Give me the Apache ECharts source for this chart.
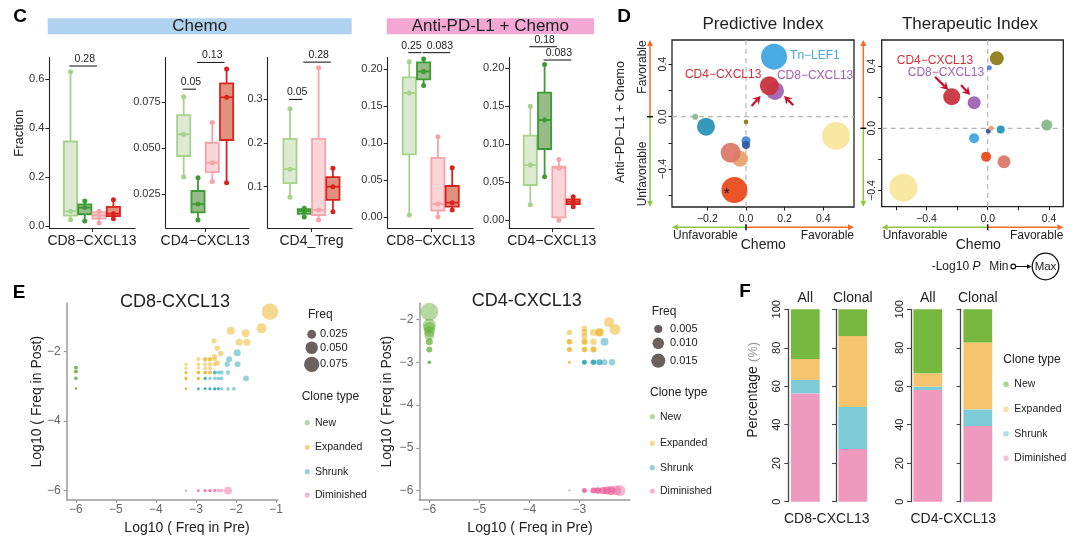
<!DOCTYPE html>
<html>
<head>
<meta charset="utf-8">
<title>Figure</title>
<script src="https://cdn.jsdelivr.net/npm/echarts@6.0.0/dist/echarts.min.js"></script>
<style>
html,body{margin:0;padding:0;background:#fff;}
#chart{width:1080px;height:545px;}
</style>
</head>
<body>
<div id="chart"></div>
<script>
// ======================= DATA =======================
// ---- Panel C : box plots, each group = [min, Q1, median, Q3, max] ----
const cPanelNames = ['CD8−CXCL13', 'CD4−CXCL13', 'CD4_Treg', 'CD8−CXCL13', 'CD4−CXCL13'];
const cGroupNames = ['Group 1', 'Group 2', 'Group 3', 'Group 4'];
const cChemoCD8  = [[0.025,0.042,0.060,0.345,0.630],[0.020,0.048,0.075,0.088,0.102],[0.012,0.030,0.044,0.057,0.060],[0.030,0.040,0.050,0.078,0.107]];
const cChemoCD4  = [[0.0346,0.0458,0.0576,0.068,0.078],[0.011,0.0152,0.0197,0.0268,0.034],[0.032,0.037,0.0422,0.053,0.064],[0.0313,0.0545,0.0777,0.0853,0.093]];
const cChemoTreg = [[0.0757,0.108,0.140,0.209,0.278],[0.031,0.038,0.0445,0.049,0.051],[0.024,0.035,0.047,0.209,0.371],[0.043,0.070,0.100,0.122,0.142]];
const cComboCD8  = [[0.0027,0.0849,0.168,0.189,0.2104],[0.178,0.1865,0.197,0.2095,0.214],[0.0,0.0086,0.0176,0.080,0.1088],[0.0095,0.014,0.0194,0.042,0.0668]];
const cComboCD4  = [[0.0206,0.0465,0.0728,0.1114,0.150],[0.0575,0.0939,0.132,0.168,0.205],[0.0,0.004,0.069,0.0706,0.080],[0.018,0.0215,0.0246,0.0276,0.031]];
const cYTicks = [[0,0.2,0.4,0.6],[0.025,0.05,0.075],[0.1,0.2,0.3],[0,0.05,0.1,0.15,0.2],[0,0.05,0.1,0.15,0.2]];
// significance: [groupA, groupB, y, p-label]
const cSigChemoCD8  = [[0,2,0.653,'0.28']];
const cSigChemoCD4  = [[0,1,0.0821,'0.05'],[1,3,0.0966,'0.13']];
const cSigChemoTreg = [[0,1,0.299,'0.05'],[1,3,0.384,'0.28']];
const cSigComboCD8  = [[0,1,0.2226,'0.25'],[1,3,0.2226,'0.083']];
const cSigComboCD4  = [[0,2,0.2285,'0.18'],[1,3,0.211,'0.083']];

// ---- Panel D : bubbles [chemo index, anti-PD-L1+chemo index, -log10 P] ----
const dCellNames = ['Tn−LEF1','CD8−CXCL13','CD4−CXCL13','cell4','cell5','cell6','cell7','cell8','cell9','cell10','cell11','cell12'];
const dPredictive  = [[0.145,0.457,2.75],[0.150,0.196,1.75],[0.121,0.236,1.88],[-0.263,0.0,0.25],[-0.207,-0.076,1.75],[0.0,-0.04,0.08],[0.0,-0.183,0.63],[0.0,-0.216,0.5],[-0.031,-0.32,1.5],[-0.079,-0.274,2.0],[-0.06,-0.559,2.75],[0.466,-0.147,3.0]];
const dTherapeutic = [[-0.089,-0.064,0.75],[-0.089,0.165,1.13],[-0.235,0.203,1.63],[0.385,0.021,0.88],[0.085,-0.007,0.5],[0.059,0.45,1.25],[0.01,0.39,0.13],[0.004,-0.017,0.13],[0.022,0.0,0.13],[0.106,-0.215,1.13],[-0.011,-0.182,0.75],[-0.551,-0.382,3.0]];
const dPredXTicks = [-0.2,0,0.2,0.4];
const dPredYTicks = [-0.6,-0.4,-0.2,0,0.2,0.4];
const dTherXTicks = [-0.6,-0.4,-0.2,0,0.2,0.4];
const dTherYTicks = [-0.4,-0.2,0,0.2,0.4];
const dAxisLabels = [-0.4,0,0.4];

// ---- Panel E : clones [log10 freq pre, log10 freq post, freq, overlapping clones] ----
const eCD8New = [[-6,-2.46,0.005,3],[-6,-2.575,0.005,3],[-6,-2.765,0.004,3],[-6,-3.06,0.002,3]];
const eCD8Expanded = [[-1.15,-0.85,0.088,1],[-1.36,-1.33,0.032,1],[-2.13,-1.40,0.020,1],[-1.76,-1.47,0.020,1],[-1.92,-1.73,0.016,1],[-1.73,-1.73,0.016,1],[-2.55,-1.69,0.009,1],[-2.47,-1.90,0.009,1],[-2.38,-2.05,0.009,1],[-2.54,-2.14,0.008,1],[-2.46,-2.33,0.008,1],
  [-2.94,-2.22,0.005,1],[-2.77,-2.22,0.006,2],[-2.65,-2.22,0.006,2],[-2.53,-2.22,0.006,1],
  [-3.25,-2.36,0.004,1],[-2.94,-2.36,0.005,1],[-2.77,-2.36,0.005,1],[-2.65,-2.36,0.006,1],[-2.53,-2.36,0.006,1],
  [-3.25,-2.48,0.004,1],[-2.94,-2.48,0.004,1],[-2.77,-2.48,0.005,1],[-2.65,-2.48,0.005,1],
  [-3.25,-2.60,0.003,3],[-2.94,-2.60,0.004,3],[-2.77,-2.60,0.004,3],[-2.65,-2.60,0.005,2],
  [-3.25,-2.77,0.003,3],[-2.94,-2.77,0.003,3],[-3.25,-3.07,0.002,3]];
const eCD8Shrunk = [[-1.97,-2.03,0.016,1],[-2.17,-2.22,0.011,1],[-1.96,-2.36,0.011,1],[-2.22,-2.36,0.009,1],[-1.75,-2.77,0.011,1],
  [-2.53,-2.60,0.005,2],[-2.44,-2.60,0.005,1],[-2.36,-2.60,0.006,1],[-2.20,-2.60,0.006,1],
  [-2.77,-2.77,0.003,3],[-2.65,-2.77,0.004,1],[-2.53,-2.77,0.004,1],[-2.44,-2.77,0.005,1],[-2.36,-2.77,0.005,1],
  [-2.94,-3.07,0.0025,3],[-2.77,-3.07,0.0028,3],[-2.65,-3.07,0.003,3],[-2.53,-3.07,0.0035,3],[-2.44,-3.07,0.0038,2],[-2.36,-3.07,0.004,1],[-2.20,-3.07,0.0045,1],[-2.05,-3.07,0.005,1]];
const eCD8Diminished = [[-3.25,-6,0.0015,2],[-2.94,-6,0.0025,3],[-2.77,-6,0.003,3],[-2.65,-6,0.0035,3],[-2.53,-6,0.004,2],[-2.44,-6,0.0045,1],[-2.36,-6,0.005,1],[-2.20,-6,0.020,1]];
const eCD4New = [[-6,-1.82,0.024,1],[-6,-2.13,0.0126,1],[-6,-2.20,0.0107,1],[-6,-2.28,0.009,1],[-6,-2.36,0.0074,1],[-6,-2.52,0.0036,2],[-6,-2.70,0.0027,2],[-6,-3.0,0.0009,3]];
const eCD4Expanded = [[-2.41,-2.06,0.0074,1],[-2.29,-2.23,0.009,1],[-2.60,-2.30,0.0048,2],[-2.72,-2.30,0.0036,1],[-2.90,-2.21,0.0027,1],[-2.90,-2.30,0.0027,1],[-2.90,-2.39,0.0027,1],[-3.20,-2.30,0.0022,1],[-3.20,-2.52,0.0022,2],[-2.90,-2.52,0.0027,2],[-2.72,-2.52,0.003,1],[-3.20,-2.70,0.0019,2],[-2.90,-2.70,0.0023,2],[-2.72,-2.70,0.0027,2],[-3.20,-3.0,0.0007,2]];
const eCD4Shrunk = [[-2.50,-2.52,0.0048,1],[-2.90,-3.0,0.0019,3],[-2.72,-3.0,0.0023,3],[-2.60,-3.0,0.0027,2],[-2.50,-3.0,0.0027,1],[-2.35,-3.0,0.0032,1]];
const eCD4Diminished = [[-3.20,-6,0.0003,2],[-2.90,-6,0.0019,3],[-2.72,-6,0.0027,3],[-2.63,-6,0.0032,3],[-2.53,-6,0.0039,2],[-2.45,-6,0.0048,2],[-2.37,-6,0.006,2],[-2.27,-6,0.0074,1],[-2.19,-6,0.009,1]];
const eCD8XTicks = [-6,-5,-4,-3,-2,-1];
const eCD8YTicks = [-6,-4,-2];
const eCD4XTicks = [-6,-5,-4,-3];
const eCD4YTicks = [-6,-5,-4,-3,-2];
const eCD8FreqLegend = [0.025,0.050,0.075];
const eCD4FreqLegend = [0.005,0.010,0.015];
const cloneTypes = ['New','Expanded','Shrunk','Diminished'];

// ---- Panel F : percentage of clone types ----
const fColumns = ['All','Clonal','All','Clonal'];
const fCells = ['CD8-CXCL13','CD4-CXCL13'];
const fDiminished = [56.3,27.4,58.1,39.3];
const fShrunk     = [7.0,21.8,1.7,8.7];
const fExpanded   = [10.9,36.9,6.9,34.7];
const fNew        = [25.8,13.9,33.3,17.3];
const fYTicks = [0,20,40,60,80,100];

// ======================= STYLE / LAYOUT =======================
const FONT = '"Liberation Sans", Arial, Helvetica, sans-serif';
const cStroke = ['#a6d28c','#3d9b35','#f5a3a9','#d9231f'];
const cFill   = ['#dbead0','#97bc87','#f9d5d7','#e3917f'];
const cLayout = [
  {left:49.3, right:135, c0:70.5, yMin:-0.0082, yMax:0.6878, dec:1},
  {left:165.7, right:249, c0:183.7, yMin:0.0067, yMax:0.0993, dec:3},
  {left:267.7, right:352, c0:290, yMin:0.0058, yMax:0.3946, dec:1},
  {left:387.7, right:473, c0:409.3, yMin:-0.0149, yMax:0.216, dec:2},
  {left:509.3, right:594, c0:530.3, yMin:-0.0101, yMax:0.2143, dec:2}
];
// horizontal nudges of p-value labels (px), per subplot / comparison
const cSigLabelDx = [[0],[0,0],[0,0],[-5,2],[0,0]];
const cTop = 57.5, cBottom = 228, cStep = 14.3;
const dColors = ['#3fa7e1','#a062b4','#c9343f','#86b98a','#2a93b8','#8f7d1f','#4b86d6','#2f57a8','#eba06e','#dc7a6c','#ea4b1c','#f8e79c'];
const eColors = {New:'#5aaa2a', Expanded:'#e6a800', Shrunk:'#1a9caa', Diminished:'#ec5a9a'};
const fColors = {New:'#76b83f', Expanded:'#f6c46e', Shrunk:'#7ccbd5', Diminished:'#ef99bf'};
const E_ALPHA = 0.45;
const ARROW_RED = '#c8102e', ORANGE = '#f26c2b', LGREEN = '#8dc63f';

const cStats = [cChemoCD8, cChemoCD4, cChemoTreg, cComboCD8, cComboCD4];
const cSig = [cSigChemoCD8, cSigChemoCD4, cSigChemoTreg, cSigComboCD8, cSigComboCD4];

const grids = [], xAxes = [], yAxes = [], series = [], graphics = [];
const minus = v => (v < 0 ? '−' : '') ;
function addGrid(g){ grids.push(Object.assign({containLabel:false, outerBoundsMode:'none'}, g)); return grids.length - 1; }

function T(text, x, y, o){
  o = o || {};
  return {type:'text', x:x, y:y, rotation:o.rot || 0, silent:true, z:20,
    style:{text:text, x:0, y:0, textAlign:o.align || 'center', textVerticalAlign:o.va || 'middle',
      fontSize:o.size || 12, fontFamily:FONT, fontWeight:o.weight || 'normal', fontStyle:o.style || 'normal',
      fill:o.color || '#222'}};
}
function arrowEls(x1, y1, x2, y2, color, lw, hl, hw, notch){
  const a = Math.atan2(y2 - y1, x2 - x1), c = Math.cos(a), s = Math.sin(a);
  const bx = x2 - hl * c, by = y2 - hl * s;
  const nx = x2 - hl * (1 - (notch || 0)) * c, ny = y2 - hl * (1 - (notch || 0)) * s;
  return [
    {type:'line', shape:{x1:x1, y1:y1, x2:nx, y2:ny}, style:{stroke:color, lineWidth:lw}},
    {type:'polygon', shape:{points:[[x2,y2],[bx - s*hw, by + c*hw],[nx, ny],[bx + s*hw, by - c*hw]]}, style:{fill:color}}
  ];
}

// ======================= PANEL C =======================
cLayout.forEach((L, s) => {
  const gi = addGrid({left:L.left, top:cTop, width:L.right - L.left, height:cBottom - cTop});
  xAxes.push({gridIndex:gi, type:'value', min:(L.left - L.c0)/cStep, max:(L.right - L.c0)/cStep,
    axisLine:{show:true, onZero:false, lineStyle:{color:'#222', width:1.1}},
    axisTick:{show:true, length:4, customValues:[1.5], lineStyle:{color:'#222'}},
    axisLabel:{customValues:[1.5], formatter:() => cPanelNames[s], fontSize:14, color:'#222', margin:6},
    splitLine:{show:false}});
  yAxes.push({gridIndex:gi, type:'value', min:L.yMin, max:L.yMax,
    axisLine:{show:true, onZero:false, lineStyle:{color:'#222', width:1.1}},
    axisTick:{show:true, length:4, customValues:cYTicks[s], lineStyle:{color:'#222'}},
    axisLabel:{customValues:cYTicks[s], formatter:v => v.toFixed(L.dec), fontSize:11, color:'#333', margin:5},
    splitLine:{show:false}});
  series.push({type:'custom', xAxisIndex:gi, yAxisIndex:gi, silent:true, z:2,
    data:cStats[s].map((st, g) => [g].concat(st)), encode:{x:0, y:[1,2,3,4,5]},
    renderItem:(params, api) => {
      const g = api.value(0);
      const x = api.coord([g, 0])[0];
      const w = api.size([0.92, 0])[0];
      const ys = [1,2,3,4,5].map(k => api.coord([g, api.value(k)])[1]);
      const st = cStroke[g], fl = cFill[g], lw = 1.8;
      return {type:'group', children:[
        {type:'line', shape:{x1:x, y1:ys[4], x2:x, y2:ys[3]}, style:{stroke:st, lineWidth:lw}},
        {type:'line', shape:{x1:x, y1:ys[1], x2:x, y2:ys[0]}, style:{stroke:st, lineWidth:lw}},
        {type:'rect', shape:{x:x - w/2, y:ys[3], width:w, height:ys[1] - ys[3]}, style:{fill:fl, stroke:st, lineWidth:lw}},
        {type:'line', shape:{x1:x - w/2, y1:ys[2], x2:x + w/2, y2:ys[2]}, style:{stroke:st, lineWidth:lw}}
      ]};
    }});
  const dots = [];
  cStats[s].forEach((st, g) => { dots.push([g, st[0]], [g, st[2]], [g, st[4]]); });
  series.push({type:'scatter', xAxisIndex:gi, yAxisIndex:gi, silent:true, z:3, clip:false,
    data:dots, symbolSize:5, itemStyle:{color:p => cStroke[p.value[0]], opacity:1}});
  series.push({type:'custom', xAxisIndex:gi, yAxisIndex:gi, silent:true, z:3,
    data:cSig[s].map(r => [r[0], r[1], r[2]]), encode:{x:[0,1], y:2},
    renderItem:(params, api) => {
      const y = api.value(2);
      const p1 = api.coord([api.value(0), y]), p2 = api.coord([api.value(1), y]);
      const lab = cSig[s][params.dataIndex][3];
      const dx = cSigLabelDx[s][params.dataIndex] || 0;
      return {type:'group', children:[
        {type:'line', shape:{x1:p1[0] - 1, y1:p1[1], x2:p2[0] - 2, y2:p2[1]}, style:{stroke:'#222', lineWidth:1.1}},
        {type:'text', style:{text:lab, x:(p1[0] + p2[0])/2 + dx, y:p1[1] - 1.5, textAlign:'center', textVerticalAlign:'bottom', fontSize:10.5, fontFamily:FONT, fill:'#222'}}
      ]};
    }});
});
graphics.push(T('C', 20, 17, {size:19, weight:'bold', color:'#000'}));
graphics.push({type:'rect', shape:{x:47.7, y:18.3, width:304, height:16}, style:{fill:'#b0d2f1'}, silent:true});
graphics.push(T('Chemo', 199.7, 26.5, {size:17}));
graphics.push({type:'rect', shape:{x:386.7, y:18.3, width:207.3, height:16}, style:{fill:'#f3a8d3'}, silent:true});
graphics.push(T('Anti-PD-L1 + Chemo', 490.3, 26.5, {size:17}));
graphics.push(T('Fraction', 19.3, 133.3, {size:13, rot:Math.PI/2}));

// ======================= PANEL D =======================
const dFmt = v => minus(v) + Math.abs(v).toFixed(1);
const dPanels = [
  {data:dPredictive, left:672, top:40, width:182, height:167, xMin:-0.383, xMax:0.559, yMin:-0.688, yMax:0.584, xt:dPredXTicks, xl:dPredXTicks, yt:dPredYTicks, ylm:3.2},
  {data:dTherapeutic, left:881.7, top:40, width:181.6, height:166.7, xMin:-0.692, xMax:0.493, yMin:-0.504, yMax:0.568, xt:dTherXTicks, xl:dAxisLabels, yt:dTherYTicks, ylm:4.5}
];
const dNotes = [
  [{text:'Tn−LEF1', at:[0.228,0.462], color:'#45a8df'}, {text:'CD4−CXCL13', at:[-0.316,0.318], color:'#d0303c'}, {text:'CD8−CXCL13', at:[0.16,0.31], color:'#a15fb3'}],
  [{text:'CD4−CXCL13', at:[-0.594,0.433], color:'#d0303c'}, {text:'CD8−CXCL13', at:[-0.522,0.358], color:'#a15fb3'}]
];
const dArrows = [
  [[0.029,0.081,0.076,0.158],[0.245,0.087,0.197,0.158]],
  [[-0.344,0.332,-0.257,0.246],[-0.174,0.278,-0.115,0.214]]
];
dPanels.forEach((P, k) => {
  const gi = addGrid({left:P.left, top:P.top, width:P.width, height:P.height, show:true, borderColor:'#222', borderWidth:1.3, backgroundColor:'transparent'});
  xAxes.push({gridIndex:gi, type:'value', min:P.xMin, max:P.xMax,
    axisLine:{show:false, onZero:false}, splitLine:{show:false},
    axisTick:{show:true, length:3.5, customValues:P.xt, lineStyle:{color:'#222'}},
    axisLabel:{customValues:P.xl, formatter:dFmt, fontSize:10.5, color:'#222', margin:6.5}});
  yAxes.push({gridIndex:gi, type:'value', min:P.yMin, max:P.yMax,
    axisLine:{show:false, onZero:false}, splitLine:{show:false},
    axisTick:{show:true, length:3.5, customValues:P.yt, lineStyle:{color:'#222'}},
    axisLabel:{customValues:dAxisLabels, formatter:dFmt, fontSize:10.5, color:'#222', margin:P.ylm, rotate:90}});
  series.push({type:'custom', xAxisIndex:gi, yAxisIndex:gi, silent:true, z:1, data:[[0,0]],
    renderItem:(params, api) => {
      const cs = params.coordSys, p = api.coord([0, 0]);
      const st = {stroke:'#b5b5b5', lineWidth:1.2, lineDash:[5,4]};
      return {type:'group', children:[
        {type:'line', shape:{x1:cs.x, y1:p[1], x2:cs.x + cs.width, y2:p[1]}, style:st},
        {type:'line', shape:{x1:p[0], y1:cs.y, x2:p[0], y2:cs.y + cs.height}, style:st}
      ]};
    }});
  series.push({type:'scatter', xAxisIndex:gi, yAxisIndex:gi, silent:true, z:3,
    data:P.data, symbolSize:v => 2*(2 + 4*v[2]),
    itemStyle:{color:p => dColors[p.dataIndex], opacity:0.95}});
  series.push({type:'custom', xAxisIndex:gi, yAxisIndex:gi, silent:true, z:4, data:dArrows[k],
    renderItem:(params, api) => {
      const a = api.coord([api.value(0), api.value(1)]), b = api.coord([api.value(2), api.value(3)]);
      return {type:'group', children:arrowEls(a[0], a[1], b[0], b[1], ARROW_RED, 2.2, 8, 4.5, 0.35)};
    }});
  series.push({type:'custom', xAxisIndex:gi, yAxisIndex:gi, silent:true, z:4, data:dNotes[k].map(n => n.at),
    renderItem:(params, api) => {
      const p = api.coord([api.value(0), api.value(1)]), n = dNotes[k][params.dataIndex];
      return {type:'text', style:{text:n.text, x:p[0], y:p[1], textAlign:'left', textVerticalAlign:'middle', fontSize:12, fontFamily:FONT, fill:n.color}};
    }});
});
// star on significant bubble in predictive index
series.push({type:'custom', xAxisIndex:5, yAxisIndex:5, silent:true, z:5, data:[[-0.1,-0.585]],
  renderItem:(params, api) => {
    const p = api.coord([api.value(0), api.value(1)]);
    return {type:'text', style:{text:'*', x:p[0], y:p[1], textAlign:'center', textVerticalAlign:'middle', fontSize:15, fontFamily:FONT, fill:'#111'}};
  }});
graphics.push(T('D', 624, 17, {size:19, weight:'bold', color:'#000'}));
graphics.push(T('Predictive Index', 763, 24, {size:17}));
graphics.push(T('Therapeutic Index', 970, 24, {size:17}));
graphics.push(T('Anti−PD−L1 + Chemo', 621, 122, {size:12.5, rot:Math.PI/2}));
graphics.push(T('Favorable', 642.5, 67, {size:12, rot:Math.PI/2}));
graphics.push(T('Unfavorable', 642.5, 174, {size:12, rot:Math.PI/2}));
[[650,116.7,40,207],[863.3,128.3,40,206.7]].forEach(v => {
  arrowEls(v[0], v[1], v[0], v[2], ORANGE, 1.5, 6, 3).forEach(e => graphics.push(Object.assign(e, {silent:true})));
  arrowEls(v[0], v[1], v[0], v[3], LGREEN, 1.5, 6, 3).forEach(e => graphics.push(Object.assign(e, {silent:true})));
  graphics.push({type:'line', shape:{x1:v[0]-3, y1:v[1], x2:v[0]+3, y2:v[1]}, style:{stroke:'#111', lineWidth:1.5}, silent:true});
});
[[746,672,854,763.3],[987.7,881.7,1063.3,978.3]].forEach(h => {
  const y = 227.3;
  arrowEls(h[0], y, h[1], y, LGREEN, 1.5, 6, 3).forEach(e => graphics.push(Object.assign(e, {silent:true})));
  arrowEls(h[0], y, h[2], y, ORANGE, 1.5, 6, 3).forEach(e => graphics.push(Object.assign(e, {silent:true})));
  graphics.push({type:'line', shape:{x1:h[0], y1:y-3, x2:h[0], y2:y+3}, style:{stroke:'#111', lineWidth:1.5}, silent:true});
  graphics.push(T('Unfavorable', h[1] + 1, 235.5, {size:12, align:'left'}));
  graphics.push(T('Favorable', h[2], 235.5, {size:12, align:'right'}));
  graphics.push(T('Chemo', h[3], 245.5, {size:14}));
});
graphics.push(T('-Log10', 931.7, 266.3, {size:12, align:'left'}));
graphics.push(T('P', 972.5, 266.3, {size:12, align:'left', style:'italic'}));
graphics.push(T('Min', 1008.5, 266.3, {size:12, align:'right'}));
graphics.push({type:'circle', shape:{cx:1013.3, cy:266.5, r:2.4}, style:{fill:'#fff', stroke:'#111', lineWidth:1.2}, silent:true});
arrowEls(1016, 266.5, 1031.5, 266.5, '#111', 1, 4.5, 2.2).forEach(e => graphics.push(Object.assign(e, {silent:true})));
graphics.push({type:'circle', shape:{cx:1045.5, cy:266.5, r:13.3}, style:{fill:'#fff', stroke:'#111', lineWidth:1.3}, silent:true});
graphics.push(T('Max', 1045.5, 266.7, {size:11.5}));

// ======================= PANEL E =======================
const eFmt = v => minus(v) + Math.abs(v);
const ePanels = [
  {left:66.7, top:303, width:211.3, height:197, xMin:-6.23, xMax:-0.95, yMin:-6.27, yMax:-0.6, xt:eCD8XTicks, yt:eCD8YTicks, k:28,
   sets:[eCD8New, eCD8Expanded, eCD8Shrunk, eCD8Diminished], title:'CD8-CXCL13', tx:175, ty:301.7, ax:187, yx:36.7,
   freq:eCD8FreqLegend, fx:311.7, fy:[334.3,347.7,364.3], flx:320, fTitle:[308,315], ct:[301.7,396.7], cdx:307.3, clx:315, cy:[422.7,447.3,471.7,495]},
  {left:419.3, top:303.3, width:210.7, height:196.7, xMin:-6.2, xMax:-1.99, yMin:-6.22, yMax:-1.62, xt:eCD4XTicks, yt:eCD4YTicks, k:58,
   sets:[eCD4New, eCD4Expanded, eCD4Shrunk, eCD4Diminished], title:'CD4-CXCL13', tx:526.7, ty:300.7, ax:530, yx:386.7,
   freq:eCD4FreqLegend, fx:658.3, fy:[329,343.3,360.7], flx:670, fTitle:[651.7,311.7], ct:[650,392.3], cdx:652.3, clx:660, cy:[416.7,443.3,467.7,491]}
];
ePanels.forEach(P => {
  const gi = addGrid({left:P.left, top:P.top, width:P.width, height:P.height});
  const axl = {show:true, onZero:false, lineStyle:{color:'#9a9a9a', width:1.5}};
  xAxes.push({gridIndex:gi, type:'value', min:P.xMin, max:P.xMax, axisLine:axl, splitLine:{show:false},
    axisTick:{show:true, length:3, customValues:P.xt, lineStyle:{color:'#9a9a9a', width:1.2}},
    axisLabel:{customValues:P.xt, formatter:eFmt, fontSize:12, color:'#666', margin:4}});
  yAxes.push({gridIndex:gi, type:'value', min:P.yMin, max:P.yMax, axisLine:axl, splitLine:{show:false},
    axisTick:{show:true, length:3, customValues:P.yt, lineStyle:{color:'#9a9a9a', width:1.2}},
    axisLabel:{customValues:P.yt, formatter:eFmt, fontSize:12, color:'#666', margin:6}});
  cloneTypes.forEach((ct, i) => {
    series.push({type:'scatter', name:ct, xAxisIndex:gi, yAxisIndex:gi, silent:true, z:2,
      symbolSize:v => 2*P.k*Math.sqrt(v[2]),
      data:P.sets[i].map(p => ({value:[p[0], p[1], p[2]], itemStyle:{opacity:1 - Math.pow(1 - E_ALPHA, p[3])}})),
      itemStyle:{color:eColors[ct]}});
  });
  graphics.push(T(P.title, P.tx, P.ty, {size:18}));
  graphics.push(T('Log10 ( Freq in Pre)', P.ax, 528, {size:14}));
  graphics.push(T('Log10 ( Freq in Post)', P.yx, 401.7, {size:14, rot:Math.PI/2}));
  graphics.push(T('Freq', P.fTitle[0], P.fTitle[1], {size:12, align:'left'}));
  P.freq.forEach((f, i) => {
    graphics.push({type:'circle', shape:{cx:P.fx, cy:P.fy[i], r:P.k*Math.sqrt(f)}, style:{fill:'#6b625e'}, silent:true});
    graphics.push(T(f.toFixed(3), P.flx, P.fy[i], {size:11, align:'left'}));
  });
  graphics.push(T('Clone type', P.ct[0], P.ct[1], {size:12, align:'left'}));
  cloneTypes.forEach((ct, i) => {
    graphics.push({type:'circle', shape:{cx:P.cdx, cy:P.cy[i], r:2.6}, style:{fill:eColors[ct], opacity:E_ALPHA}, silent:true});
    graphics.push(T(ct, P.clx, P.cy[i], {size:10.5, align:'left'}));
  });
});
graphics.push(T('E', 19, 292.5, {size:19, weight:'bold', color:'#000'}));

// ======================= PANEL F =======================
const fLayout = [{left:788.3, width:34}, {left:836, width:33.6}, {left:911, width:33.6}, {left:960.7, width:34.2}];
const fStacks = [['Diminished', fDiminished], ['Shrunk', fShrunk], ['Expanded', fExpanded], ['New', fNew]];
fLayout.forEach((L, g) => {
  const gi = addGrid({left:L.left, top:309.3, width:L.width, height:192.4});
  xAxes.push({gridIndex:gi, type:'category', data:[fColumns[g]], position:'top',
    axisLine:{show:false}, axisTick:{show:false}, axisLabel:{fontSize:14, color:'#222', margin:4}});
  yAxes.push({gridIndex:gi, type:'value', min:0, max:100, interval:20,
    axisLine:{show:true, onZero:false, lineStyle:{color:'#444', width:1.3}},
    axisTick:{show:true, length:4, customValues:fYTicks, lineStyle:{color:'#444', width:1.1}},
    axisLabel:{show:g % 2 === 0, customValues:fYTicks, rotate:90, fontSize:11, color:'#222', margin:6}, splitLine:{show:false}});
  fStacks.forEach(st => {
    series.push({type:'bar', name:st[0], xAxisIndex:gi, yAxisIndex:gi, stack:'f' + g, silent:true,
      data:[st[1][g]], barWidth:28.8, itemStyle:{color:fColors[st[0]]}});
  });
});
graphics.push(T('F', 745, 292, {size:19, weight:'bold', color:'#000'}));
graphics.push(T(fCells[0], 826.7, 519.3, {size:14}));
graphics.push(T(fCells[1], 953.3, 519.3, {size:14}));
graphics.push(T('Percentage', 753.3, 402, {size:14, rot:Math.PI/2}));
graphics.push(T('(%)', 753.3, 352, {size:13, rot:Math.PI/2, color:'#9a9a9a'}));
graphics.push(T('Clone type', 1003.3, 360, {size:12, align:'left'}));
[384.3, 409.3, 433.7, 458.3].forEach((y, i) => {
  graphics.push({type:'circle', shape:{cx:1006, cy:y, r:2.8}, style:{fill:fColors[cloneTypes[i]], opacity:0.6}, silent:true});
  graphics.push(T(cloneTypes[i], 1014.3, y, {size:10.5, align:'left'}));
});

// ======================= RENDER =======================
const chart = echarts.init(document.getElementById('chart'), null, {renderer:'canvas', width:1080, height:545});
chart.setOption({
  animation:false,
  textStyle:{fontFamily:FONT},
  grid:grids, xAxis:xAxes, yAxis:yAxes, series:series,
  graphic:{elements:graphics}
});
</script>
</body>
</html>
